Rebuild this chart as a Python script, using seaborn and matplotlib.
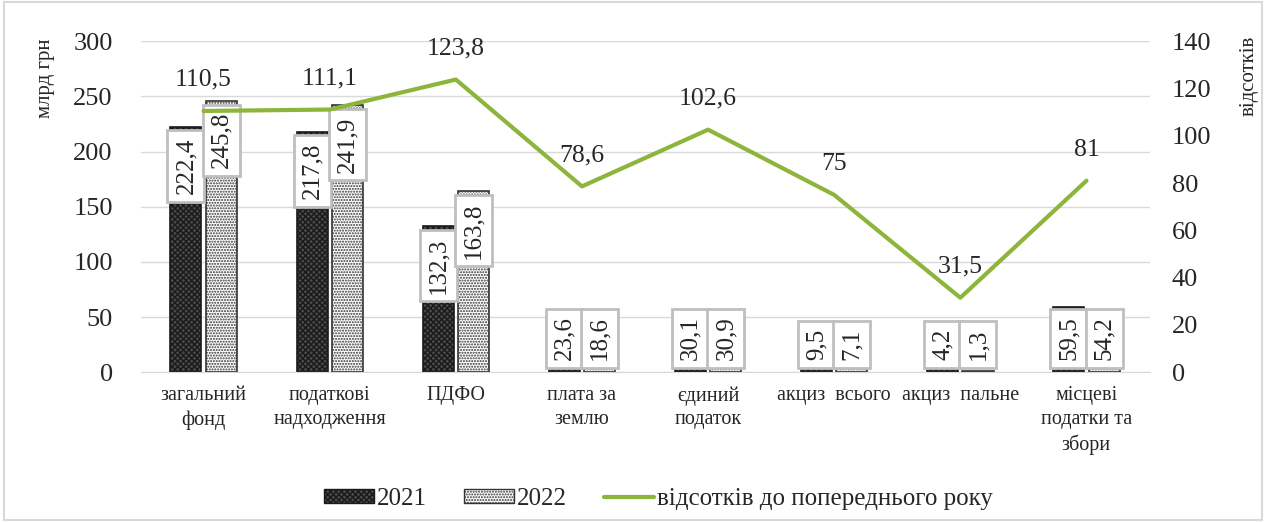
import numpy as np
import pandas as pd
import seaborn as sns
import matplotlib.pyplot as plt
from matplotlib.patches import Patch
from matplotlib.lines import Line2D

categories = ["загальний\nфонд", "податкові\nнадходження", "ПДФО", "плата за\nземлю",
              "єдиний\nподаток", "акциз  всього", "акциз  пальне", "місцеві\nподатки та\nзбори"]
v2021 = [222.4, 217.8, 132.3, 23.6, 30.1, 9.5, 4.2, 59.5]
v2022 = [245.8, 241.9, 163.8, 18.6, 30.9, 7.1, 1.3, 54.2]
pct = [110.5, 111.1, 123.8, 78.6, 102.6, 75, 31.5, 81]
pct_labels = ["110,5", "111,1", "123,8", "78,6", "102,6", "75", "31,5", "81"]

sns.set_style("white")
plt.rcParams['font.family'] = ['Liberation Serif', 'DejaVu Serif']

df = pd.DataFrame({
    "cat": categories * 2,
    "value": v2021 + v2022,
    "year": ["2021"] * len(categories) + ["2022"] * len(categories),
})

fig = plt.figure(figsize=(12.66, 5.22), dpi=100)
ax = fig.add_axes([0.111, 0.287, 0.797, 0.634])

sns.barplot(data=df, x="cat", y="value", hue="year", ax=ax, width=0.56, gap=0.12,
            palette=["#555555", "white"], legend=False, zorder=2)

styles = {"2021": ("#4a4a4a", "xxxxxx", "#1a1a1a"), "2022": ("white", "......", "#333333")}
for container, yr in zip(ax.containers, ["2021", "2022"]):
    fc, hatch, ec = styles[yr]
    for p in container:
        p.set_facecolor(fc)
        p.set_hatch(hatch)
        p.set_edgecolor(ec)
        p.set_linewidth(1.2)

box = dict(boxstyle="square,pad=0.3", fc="white", ec="#bfbfbf", lw=2)
for container, vals in zip(ax.containers, [v2021, v2022]):
    for p, v in zip(container, vals):
        xc = p.get_x() + p.get_width() / 2
        txt = f"{v}".replace(".", ",")
        if v > 100:
            ax.text(xc, v - 10, txt, rotation=90, ha="center", va="top", fontsize=18,
                    bbox=box, zorder=5)
        else:
            ax.text(xc, 11, txt, rotation=90, ha="center", va="bottom", fontsize=18,
                    bbox=box, zorder=5)

ax.set_ylim(0, 300)
ax.set_yticks(range(0, 301, 50))
ax.set_xlim(-0.5, len(categories) - 0.5)
ax.yaxis.grid(True, color="#d9d9d9", lw=1)
ax.set_axisbelow(True)
for s in ["top", "right", "left"]:
    ax.spines[s].set_visible(False)
ax.spines["bottom"].set_color("#d9d9d9")
ax.tick_params(axis="y", labelsize=19, length=0, pad=20)
ax.tick_params(axis="x", labelsize=14.5, length=0, pad=10)
for t in ax.get_xticklabels():
    t.set_linespacing(1.35)
ax.set_xlabel("")
ax.set_ylabel("")

ax2 = ax.twinx()
sns.lineplot(x=np.arange(len(categories)), y=pct, ax=ax2, color="#8db53c", lw=3, zorder=3)
ax2.set_ylim(0, 140)
ax2.set_yticks(range(0, 141, 20))
ax2.tick_params(axis="y", labelsize=19, length=0, pad=16)
for s in ["top", "right", "left", "bottom"]:
    ax2.spines[s].set_visible(False)
for i, (p, lab) in enumerate(zip(pct, pct_labels)):
    ax2.text(i, p + 8.5, lab, ha="center", va="bottom", fontsize=18.5)

fig.text(0.036, 0.85, "млрд грн", rotation=90, ha="center", va="center", fontsize=15)
fig.text(0.987, 0.855, "відсотків", rotation=90, ha="center", va="center", fontsize=15)

handles = [Patch(facecolor="#4a4a4a", edgecolor="#1a1a1a", hatch="xxxxxx", label="2021"),
           Patch(facecolor="white", edgecolor="#333333", hatch="......", label="2022"),
           Line2D([0], [0], color="#8db53c", lw=3, label="відсотків до попереднього року")]
fig.legend(handles=handles, loc="center", bbox_to_anchor=(0.52, 0.045), ncol=3,
           frameon=False, fontsize=18, handlelength=2.0, handleheight=0.5,
           handletextpad=0.1, columnspacing=1.5)

fig.patches.append(plt.Rectangle((0.003, 0.003), 0.994, 0.994, transform=fig.transFigure,
                                 fill=False, ec="#d9d9d9", lw=1.5))
fig.savefig("out.png", dpi=100)
